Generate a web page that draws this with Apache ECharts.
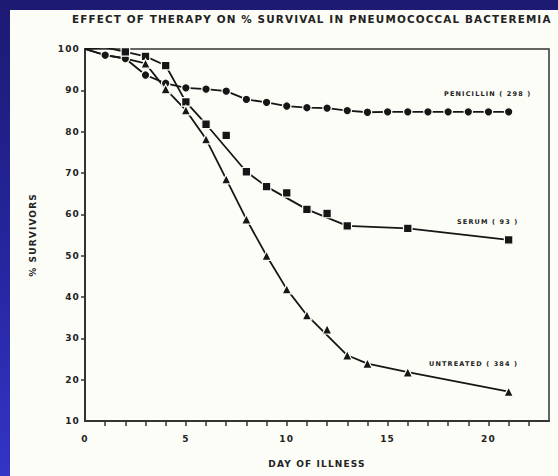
<!DOCTYPE html>
<html>
<head>
<meta charset="utf-8">
<script src="https://cdn.jsdelivr.net/npm/echarts@6/dist/echarts.min.js"></script>
<style>
  html, body { margin: 0; padding: 0; width: 558px; height: 476px; overflow: hidden; }
  body { background: linear-gradient(to bottom, #1c1a72 0%, #2626a0 55%, #3434c6 100%); position: relative; }
  #panel { position: absolute; left: 10px; top: 10px; width: 548px; height: 466px; background: #fdfdf8; }
  #chart { position: absolute; left: 0; top: 0; width: 558px; height: 476px; }
  #chart text { letter-spacing: 1.15px; }
</style>
</head>
<body>
<div id="panel"></div>
<div id="chart"></div>
<script>
// ---- data ----
const titleText = 'EFFECT OF THERAPY ON % SURVIVAL IN PNEUMOCOCCAL BACTEREMIA';
const xName = 'DAY OF ILLNESS';
const yName = '% SURVIVORS';
const xLabelValues = [0, 5, 10, 15, 20];
const xTickValues = [1, 2, 3, 4, 5, 6, 7, 8, 9, 10, 11, 12, 13, 14, 15, 16, 17, 18, 19, 20, 21, 22];
const yTickValues = [20, 30, 40, 50, 60, 70, 80, 90];

// Penicillin (298)
const penicillinLineDays = [0, 1, 2, 3, 4, 5, 6, 7, 8, 9, 10, 11, 12, 13, 14, 15, 16, 17, 18, 19, 20, 21];
const penicillinLinePct  = [100, 98.5, 97.7, 93.7, 91.7, 90.6, 90.3, 89.8, 87.8, 87.1, 86.2, 85.8, 85.7, 85.1, 84.7, 84.8, 84.8, 84.8, 84.8, 84.8, 84.8, 84.8];
const penicillinPtDays   = [1, 2, 3, 4, 5, 6, 7, 8, 9, 10, 11, 12, 13, 14, 15, 16, 17, 18, 19, 20, 21];
const penicillinPtPct    = [98.5, 97.7, 93.7, 91.7, 90.6, 90.3, 89.8, 87.8, 87.1, 86.2, 85.8, 85.7, 85.1, 84.7, 84.8, 84.8, 84.8, 84.8, 84.8, 84.8, 84.8];

// Serum (93)
const serumLineDays = [0, 1, 2, 3, 4, 5, 6, 8, 9, 11, 13, 16, 21];
const serumLinePct  = [100, 100.4, 99.3, 98.2, 96.0, 87.2, 81.8, 70.3, 66.7, 61.2, 57.2, 56.6, 53.8];
const serumPtDays   = [1, 2, 3, 4, 5, 6, 7, 8, 9, 10, 11, 12, 13, 16, 21];
const serumPtPct    = [100.4, 99.3, 98.2, 96.0, 87.2, 81.8, 79.1, 70.3, 66.7, 65.2, 61.2, 60.2, 57.2, 56.6, 53.8];

// Untreated (384)
const untreatedLineDays = [0, 1, 2, 3, 4, 5, 6, 7, 8, 9, 10, 11, 13, 14, 16, 21];
const untreatedLinePct  = [100, 98.5, 97.7, 96.5, 90.3, 85.2, 78.2, 68.5, 58.8, 50.0, 41.9, 35.6, 25.9, 23.9, 21.8, 17.1];
const untreatedPtDays   = [3, 4, 5, 6, 7, 8, 9, 10, 11, 12, 13, 14, 16, 21];
const untreatedPtPct    = [96.5, 90.3, 85.2, 78.2, 68.5, 58.8, 50.0, 41.9, 35.6, 32.2, 25.9, 23.9, 21.8, 17.1];

const seriesLabels = ['PENICILLIN ( 298 )', 'SERUM ( 93 )', 'UNTREATED ( 384 )'];

// ---- build ----
const zip = (a, b) => a.map((d, i) => [d, b[i]]);
const INK = '#161616';
const PANEL = '#fdfdf8';
const FONT = 'DejaVu Sans';

function lineSeries(days, pct) {
  return { type: 'line', data: zip(days, pct), symbol: 'none', z: 2,
    lineStyle: { color: INK, width: 1.8 }, animation: false };
}
function markSeries(days, pct, sym, size) {
  return { type: 'scatter', data: zip(days, pct), symbol: sym, symbolSize: size, z: 3,
    itemStyle: { color: INK, borderColor: PANEL, borderWidth: 1.2, opacity: 1 }, animation: false };
}

const chart = echarts.init(document.getElementById('chart'), null, { renderer: 'svg' });
const axisText = { color: '#222', fontWeight: 'bold', fontSize: 9, fontFamily: FONT };
chart.setOption({
  animation: false,
  backgroundColor: 'transparent',
  title: { text: titleText, left: 72, top: 14, padding: 0,
    textStyle: { color: '#222', fontWeight: 'bold', fontSize: 10.4, fontFamily: FONT } },
  grid: { left: 85, top: 49, right: 9, bottom: 55, show: true, borderColor: '#333', borderWidth: 1.5, backgroundColor: 'transparent' },
  xAxis: {
    type: 'value', min: 0, max: 23, interval: 1,
    name: xName, nameLocation: 'middle', nameGap: 38, nameTextStyle: axisText,
    axisLine: { show: true, lineStyle: { color: '#333', width: 2 } },
    axisTick: { show: true, inside: false, length: 5, customValues: xTickValues, lineStyle: { color: '#333', width: 1.5 } },
    axisLabel: Object.assign({ margin: 13, customValues: xLabelValues,
      formatter: v => (xLabelValues.indexOf(v) >= 0 ? String(v) : '') }, axisText),
    splitLine: { show: false }
  },
  yAxis: {
    type: 'value', min: 10, max: 100, interval: 10,
    name: yName, nameLocation: 'middle', nameGap: 48, nameTextStyle: axisText,
    axisLine: { show: true, lineStyle: { color: '#333', width: 2 } },
    axisTick: { show: true, inside: false, length: 4, customValues: yTickValues, lineStyle: { color: '#333', width: 1.5 } },
    axisLabel: Object.assign({ margin: 5 }, axisText),
    splitLine: { show: false }
  },
  graphic: [
    { type: 'text', left: 444, top: 90, style: { text: seriesLabels[0], font: 'bold 6.5px ' + FONT, fill: '#222' } },
    { type: 'text', left: 457, top: 218, style: { text: seriesLabels[1], font: 'bold 6.5px ' + FONT, fill: '#222' } },
    { type: 'text', left: 429, top: 360, style: { text: seriesLabels[2], font: 'bold 6.5px ' + FONT, fill: '#222' } }
  ],
  series: [
    lineSeries(penicillinLineDays, penicillinLinePct),
    lineSeries(serumLineDays, serumLinePct),
    lineSeries(untreatedLineDays, untreatedLinePct),
    markSeries(penicillinPtDays, penicillinPtPct, 'circle', 8.5),
    markSeries(serumPtDays, serumPtPct, 'rect', 8.5),
    markSeries(untreatedPtDays, untreatedPtPct, 'triangle', 9.5)
  ]
});
</script>
</body>
</html>
